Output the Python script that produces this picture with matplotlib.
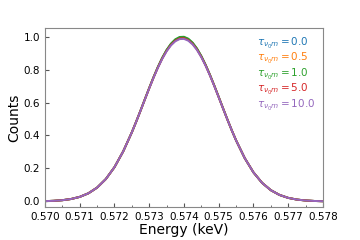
import matplotlib
matplotlib.use('Agg')
import matplotlib.pyplot as plt
from matplotlib.ticker import MultipleLocator

energy = [0.57000, 0.57025, 0.57050, 0.57075, 0.57100, 0.57125, 0.57150, 0.57175,
          0.57200, 0.57225,
          0.572500, 0.572625, 0.572750, 0.572875, 0.573000, 0.573125, 0.573250,
          0.573375, 0.573500, 0.573625, 0.573750, 0.573875, 0.574000, 0.574125,
          0.574250, 0.574375, 0.574500, 0.574625, 0.574750, 0.574875, 0.575000,
          0.575125, 0.575250, 0.575375, 0.575500,
          0.57575, 0.57600, 0.57625, 0.57650, 0.57675, 0.57700, 0.57725, 0.57750,
          0.57775, 0.57800]

tau_labels = ['0.0', '0.5', '1.0', '5.0', '10.0']
colors = ['#1f77b4', '#ff7f0e', '#2ca02c', '#d62728', '#9467bd']

left_tail = [0.0016, 0.0035, 0.0073, 0.0145, 0.0274, 0.0492, 0.0837, 0.1353,
             0.2078, 0.3030]
right_tail = [0.2622, 0.1761, 0.1123, 0.0681, 0.0392, 0.0214, 0.0111, 0.0055,
              0.0026, 0.0011]

peak_tau0 = [0.4193, 0.4839, 0.5511, 0.6199, 0.6880, 0.7538, 0.8154, 0.8706,
             0.9176, 0.9548, 0.9808, 0.9947, 0.9960, 0.9845, 0.9609, 0.9259,
             0.8807, 0.8270, 0.7666, 0.7015, 0.6336, 0.5649, 0.4973, 0.4320,
             0.3705]
peak_tau05 = [0.4192, 0.4838, 0.5509, 0.6196, 0.6876, 0.7532, 0.8145, 0.8694,
              0.9161, 0.9531, 0.9789, 0.9927, 0.9940, 0.9826, 0.9592, 0.9244,
              0.8795, 0.8261, 0.7659, 0.7010, 0.6333, 0.5647, 0.4972, 0.4319,
              0.3704]
peak_tau1 = [0.4194, 0.4841, 0.5514, 0.6203, 0.6887, 0.7548, 0.8167, 0.8723,
             0.9197, 0.9573, 0.9836, 0.9977, 0.9990, 0.9874, 0.9635, 0.9281,
             0.8825, 0.8284, 0.7676, 0.7022, 0.6341, 0.5652, 0.4975, 0.4321,
             0.3705]
peak_tau5 = [0.4191, 0.4836, 0.5506, 0.6190, 0.6867, 0.7519, 0.8127, 0.8671,
             0.9133, 0.9498, 0.9752, 0.9888, 0.9901, 0.9788, 0.9557, 0.9215,
             0.8770, 0.8242, 0.7645, 0.7000, 0.6326, 0.5643, 0.4969, 0.4318,
             0.3704]
peak_tau10 = [0.4190, 0.4834, 0.5502, 0.6184, 0.6858, 0.7506, 0.8109, 0.8648,
              0.9104, 0.9464, 0.9714, 0.9848, 0.9861, 0.9750, 0.9523, 0.9185,
              0.8746, 0.8223, 0.7631, 0.6990, 0.6320, 0.5639, 0.4967, 0.4316,
              0.3703]

all_peaks = [peak_tau0, peak_tau05, peak_tau1, peak_tau5, peak_tau10]

fig = plt.figure(figsize=(3.6, 2.4), dpi=100)
ax = fig.add_axes([0.125, 0.1375, 0.772, 0.745])

for peak, tau, c in zip(all_peaks, tau_labels, colors):
    counts = left_tail + peak + right_tail
    ax.plot(energy, counts, color=c, lw=1.4,
            label=r'$\tau_{\nu_0 m} = $' + tau)

ax.set_xlim(0.570, 0.578)
ax.set_ylim(-0.034, 1.051)
ax.xaxis.set_major_locator(MultipleLocator(0.001))
ax.xaxis.set_minor_locator(MultipleLocator(0.0005))
ax.yaxis.set_major_locator(MultipleLocator(0.2))
ax.tick_params(which='both', direction='in', labelsize=7.5, color='#555555')
ax.tick_params(which='major', length=3)
ax.tick_params(which='minor', length=1.5)
for s in ax.spines.values():
    s.set_color('#888888')

ax.set_xlabel('Energy (keV)', fontsize=10, labelpad=1)
ax.set_ylabel('Counts', fontsize=10, labelpad=2)

leg = ax.legend(loc='upper right', frameon=False, handlelength=0, handletextpad=0,
                fontsize=7.5, labelcolor='linecolor', labelspacing=0.05,
                borderaxespad=0.3)
for h in leg.legend_handles:
    h.set_visible(False)

fig.savefig('out.png', dpi=100)
